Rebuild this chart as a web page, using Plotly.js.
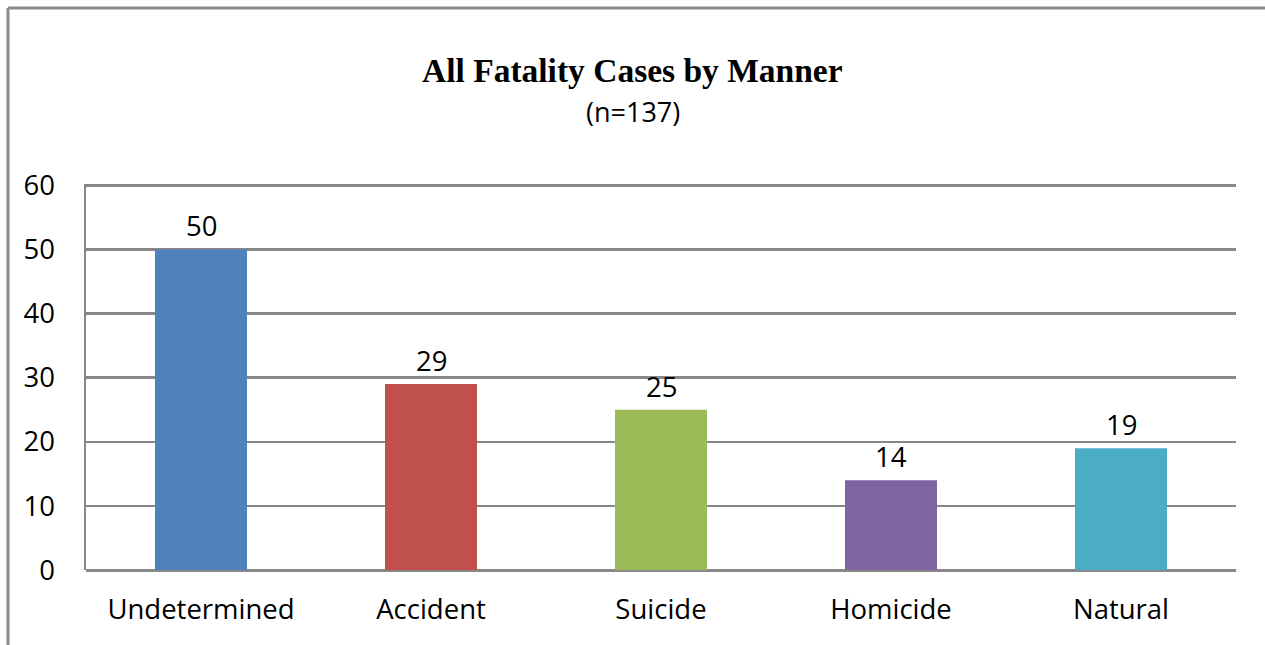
<!DOCTYPE html>
<html>
<head>
<meta charset="utf-8">
<script src="https://cdn.plot.ly/plotly-3.0.1.min.js"></script>
<style>html,body{margin:0;padding:0;background:#fff;}#chart{width:1265px;height:645px;}</style>
</head>
<body>
<div id="chart"></div>
<script>
const categories = ["Undetermined", "Accident", "Suicide", "Homicide", "Natural"];
const counts = [50, 29, 25, 14, 19];
const barColors = ["#4F81BD", "#C0504D", "#9BBB59", "#8064A2", "#4BACC6"];
const titleText = "All Fatality Cases by Manner";
const subtitleText = "(n=137)";
const yTicks = [0, 10, 20, 30, 40, 50, 60];

const W = 1265, H = 645;
const L = 86, R = 29, T = 184, B = 75;
const pw = W - L - R, ph = H - T - B;
const px = v => (v - L) / pw;           // page x -> paper x
const py = v => (H - B - v) / ph;       // page y -> paper y
const cx = 0.5 + (W / 2 - (L + pw / 2)) / pw;

const trace = {
  type: "bar",
  x: categories,
  y: counts,
  marker: { color: barColors, line: { width: 0 } },
  hoverinfo: "x+y"
};

const labelAnnotations = categories.map((c, i) => ({
  x: c, y: counts[i], xref: "x", yref: "y",
  text: String(counts[i]), showarrow: false,
  yanchor: "bottom", yshift: 3,
  font: { family: "Open Sans", size: 27.5, color: "#000" }
}));

const layout = {
  width: W, height: H,
  margin: { l: L, r: R, t: T, b: B },
  paper_bgcolor: "#fff", plot_bgcolor: "#fff",
  showlegend: false,
  bargap: 0.6,
  xaxis: {
    type: "category",
    tickfont: { family: "Open Sans", size: 27.5, color: "#000" },
    showgrid: false, zeroline: false,
    showline: false,
    ticks: "", ticklabelstandoff: 20
  },
  yaxis: {
    range: [0, 60.2],
    tickvals: yTicks,
    tickfont: { family: "Open Sans", size: 27.5, color: "#000" },
    showgrid: true, gridcolor: "#888888", gridwidth: 2.5,
    zeroline: true, zerolinecolor: "#888888", zerolinewidth: 3,
    showline: true, linecolor: "#888888", linewidth: 2.5,
    ticks: "", ticklabelstandoff: 23
  },
  annotations: [
    { xref: "paper", yref: "paper", x: cx, y: py(70), yanchor: "middle",
      text: titleText, showarrow: false,
      font: { family: "Liberation Serif", size: 33.5, color: "#000", weight: "bold" } },
    { xref: "paper", yref: "paper", x: cx, y: py(111), yanchor: "middle",
      text: subtitleText, showarrow: false,
      font: { family: "Open Sans", size: 27, color: "#000" } }
  ].concat(labelAnnotations),
  shapes: [
    { type: "line", xref: "paper", yref: "paper", x0: px(8), x1: px(W), y0: py(8), y1: py(8),
      line: { color: "#8c8c8c", width: 3 } },
    { type: "line", xref: "paper", yref: "paper", x0: px(8), x1: px(8), y0: py(8), y1: py(H),
      line: { color: "#8c8c8c", width: 3 } }
  ]
};

Plotly.newPlot("chart", [trace], layout, { displayModeBar: false, staticPlot: true });
</script>
</body>
</html>
